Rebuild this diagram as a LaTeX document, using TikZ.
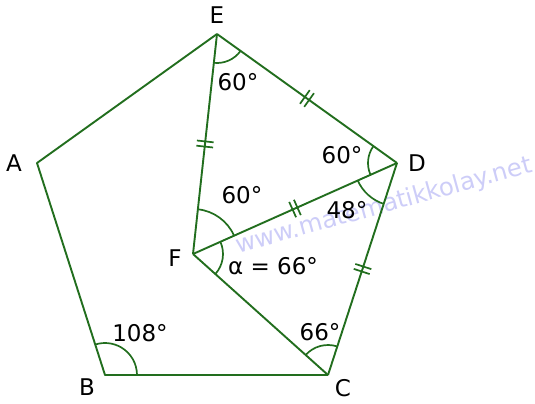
\documentclass[tikz,border=0pt]{standalone}
\usepackage{fontspec}
\setmainfont{DejaVu Sans}
\usetikzlibrary{angles,decorations.markings}
\definecolor{geogreen}{RGB}{34,110,30}
\definecolor{wmblue}{RGB}{205,205,248}
\begin{document}
\begin{tikzpicture}[
  x=0.5pt, y=0.5pt,
  font=\fontsize{11.5}{13}\selectfont,
  side/.style={geogreen, line width=0.95pt, line join=round},
  ang/.style={draw=geogreen, line width=0.85pt},
  lbl/.style={inner sep=0pt},
  eqtick/.style={postaction={decorate, decoration={markings,
    mark=at position 0.5 with {\draw[geogreen, line width=0.85pt]
      (-1.3pt,-4.2pt) -- (-1.3pt,4.2pt) (1.3pt,-4.2pt) -- (1.3pt,4.2pt);}}}}
]
\useasboundingbox (0,0) rectangle (535,403);

\node[text=wmblue, rotate=15.5, font=\fontsize{12.2}{14}\selectfont] (wm) at (384,197)
  {www.matematikkolay.net};

\coordinate (A) at (37,240);
\coordinate (B) at (105,28);
\coordinate (C) at (328,28);
\coordinate (D) at (397,240);
\coordinate (E) at (217,369);
\coordinate (F) at (193,149);

\draw[side] (E) -- (A) -- (B) -- (C);
\draw[side, eqtick] (E) -- (D);
\draw[side, eqtick] (C) -- (D);
\draw[side, eqtick] (E) -- (F);
\draw[side, eqtick] (F) -- (D);
\draw[side] (F) -- (C);

\pic[ang, angle radius=14.5pt] {angle=F--E--D};
\pic[ang, angle radius=14.5pt] {angle=E--D--F};
\pic[ang, angle radius=21.5pt] {angle=F--D--C};
\pic[ang, angle radius=22.5pt] {angle=D--F--E};
\pic[ang, angle radius=15pt] {angle=C--F--D};
\pic[ang, angle radius=15pt] {angle=D--C--F};
\pic[ang, angle radius=16pt] {angle=C--B--A};

\node[lbl] (lE) at (217,388) {E};
\node[lbl] (lD) at (417,240) {D};
\node[lbl] (lA) at (14,240) {A};
\node[lbl] (lB) at (87,16) {B};
\node[lbl] (lC) at (343,15) {C};
\node[lbl] (lF) at (175,145) {F};

\node[lbl] (aE) at (238,321) {60°};
\node[lbl] (aD) at (342,248) {60°};
\node[lbl] (aF) at (242,208) {60°};
\node[lbl] (bD) at (347,193) {48°};
\node[lbl] (bF) at (273,137) {α = 66°};
\node[lbl] (bC) at (320,71) {66°};
\node[lbl] (bB) at (140,70) {108°};
\end{tikzpicture}
\end{document}
